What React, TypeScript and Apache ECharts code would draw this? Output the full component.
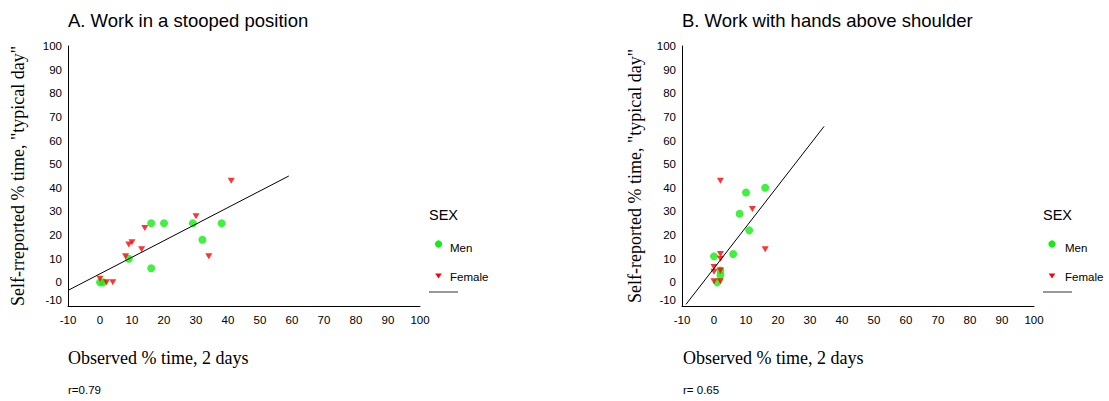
import React, { useEffect, useRef } from "react";
import * as echarts from "echarts";

// ---- data ----
const xTicks = [-10, 0, 10, 20, 30, 40, 50, 60, 70, 80, 90, 100];
const titleA = "A. Work in a stooped position";
const titleB = "B. Work with hands above shoulder";
const yNameA = 'Self-rreported % time, "typical day"';
const yNameB = 'Self-reported % time, "typical day"';
const xName = "Observed % time, 2 days";
const rA = "r=0.79";
const rB = "r= 0.65";
const legendTitle = "SEX";
const legendNames = ["Men", "Female"];

const menA = [[0, 0], [1, 0], [9, 10], [16, 6], [16, 25], [20, 25], [29, 25], [32, 18], [38, 25]];
const femaleA = [[0, 1.5], [2, 0], [4, 0], [8, 11], [9, 16], [10, 17], [13, 14], [14, 23], [30, 28], [34, 11], [41, 43]];
const fitA = [[-10, -3.4], [59, 45]];

const menB = [[0, 11], [2, 5], [2, 3], [1, 0], [6, 12], [8, 29], [10, 38], [11, 22], [16, 40]];
const femaleB = [[2, 43], [2, 12], [2, 10], [0, 6.5], [0, 4.5], [2, 5], [0, 0.5], [2, 0.5], [12, 31], [16, 14]];
const fitB = [[-8.75, -9.3], [34.4, 66]];

const GREEN = "#11ee11";
const RED = "#ff0000";
const SANS = "'Liberation Sans', Arial, sans-serif";
const SERIF = "'Liberation Serif', 'Times New Roman', serif";

export default function App() {
  const ref = useRef<HTMLDivElement>(null);

  useEffect(() => {
    if (!ref.current) return;
    const chart = echarts.init(ref.current, undefined, { renderer: "svg" });

    const grids = [
      { left: 68, top: 46, width: 352, height: 260 },
      { left: 682, top: 46, width: 352, height: 260 },
    ];

    const axisCommon = {
      type: "value",
      min: xTicks[0],
      max: xTicks[xTicks.length - 1],
      interval: 10,
      axisLine: { show: true, onZero: false, lineStyle: { color: "#000", width: 1 } },
      axisTick: { show: false },
      splitLine: { show: false },
    };

    const xAxis = grids.map((_, i) => ({
      ...axisCommon,
      gridIndex: i,
      axisLabel: {
        color: "#000",
        fontSize: 11.5,
        fontFamily: SANS,
        margin: 8,
        showMinLabel: true,
        showMaxLabel: true,
      },
    }));

    const yAxis = grids.map((_, i) => ({
      ...axisCommon,
      gridIndex: i,
      axisLabel: {
        color: "#000",
        fontSize: 11.5,
        fontFamily: SANS,
        margin: 6,
        showMinLabel: true,
        showMaxLabel: true,
        formatter: (v: number) => (v === -10 ? `{lo|${v}}\n{sp| }` : `${v}`),
        rich: {
          lo: { color: "#000", fontSize: 11.5, fontFamily: SANS, lineHeight: 14 },
          sp: { fontSize: 4, lineHeight: 12 },
        },
      },
    }));

    const scatter = (data: number[][], idx: number, kind: "men" | "female") =>
      kind === "men"
        ? {
            type: "scatter",
            xAxisIndex: idx,
            yAxisIndex: idx,
            data,
            symbol: "circle",
            symbolSize: 8,
            itemStyle: { color: GREEN },
            silent: true,
          }
        : {
            type: "scatter",
            xAxisIndex: idx,
            yAxisIndex: idx,
            data,
            symbol: "triangle",
            symbolRotate: 180,
            symbolSize: [7, 6],
            itemStyle: { color: RED },
            silent: true,
          };

    const fit = (data: number[][], idx: number) => ({
      type: "line",
      xAxisIndex: idx,
      yAxisIndex: idx,
      data,
      symbol: "none",
      lineStyle: { color: "#000", width: 1 },
      silent: true,
    });

    const txt = (text: string, x: number, y: number, font: string, extra: any = {}) => ({
      type: "text",
      x,
      y,
      silent: true,
      ...extra,
      style: {
        text,
        font,
        fill: "#000",
        align: "left",
        verticalAlign: "middle",
        ...(extra.style || {}),
      },
    });

    const legend = (x0: number, mx: number, tx: number, lineEnd: number) => [
      txt(legendTitle, x0, 215, `14.5px ${SANS}`),
      {
        type: "circle",
        silent: true,
        shape: { cx: mx, cy: 244, r: 3.6 },
        style: { fill: GREEN },
      },
      txt(legendNames[0], tx, 247.5, `11.5px ${SANS}`),
      {
        type: "polygon",
        silent: true,
        shape: { points: [[mx - 3.3, 273.5], [mx + 3.3, 273.5], [mx, 278.5]] },
        style: { fill: RED },
      },
      txt(legendNames[1], tx, 276.5, `11.5px ${SANS}`),
      {
        type: "line",
        silent: true,
        shape: { x1: x0, y1: 292, x2: lineEnd, y2: 292 },
        style: { stroke: "#333", lineWidth: 1 },
      },
    ];

    const graphic = [
      txt(titleA, 68, 20.5, `18.5px ${SANS}`),
      txt(titleB, 682, 20.5, `18.5px ${SANS}`),
      txt(yNameA, 18, 176, `18px ${SERIF}`, { rotation: Math.PI / 2, style: { align: "center" } }),
      txt(yNameB, 635, 176, `18px ${SERIF}`, { rotation: Math.PI / 2, style: { align: "center" } }),
      txt(xName, 68, 358, `18px ${SERIF}`),
      txt(xName, 683, 358, `18px ${SERIF}`),
      txt(rA, 68, 390, `11.5px ${SANS}`),
      txt(rB, 683, 390, `11.5px ${SANS}`),
      ...legend(429, 438.5, 450, 458),
      ...legend(1043, 1052, 1065, 1072),
    ];

    chart.setOption({
      animation: false,
      backgroundColor: "#fff",
      grid: grids,
      xAxis,
      yAxis,
      series: [
        fit(fitA, 0),
        scatter(menA, 0, "men"),
        scatter(femaleA, 0, "female"),
        fit(fitB, 1),
        scatter(menB, 1, "men"),
        scatter(femaleB, 1, "female"),
      ],
      graphic,
    });

    return () => chart.dispose();
  }, []);

  return (
    <div
      ref={ref}
      style={{ position: "fixed", left: 0, top: 0, width: 1109, height: 401, background: "#fff" }}
    />
  );
}
